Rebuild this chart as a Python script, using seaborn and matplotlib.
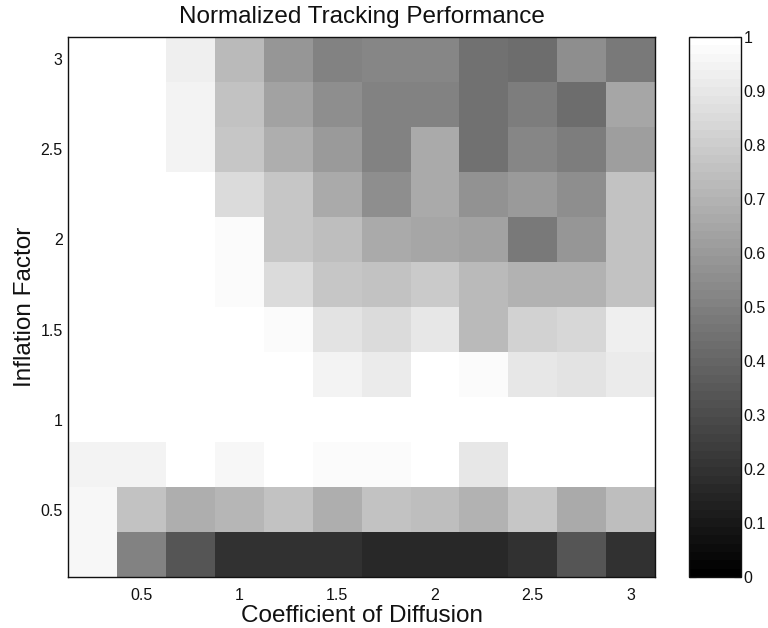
import numpy as np
import pandas as pd
import matplotlib
matplotlib.use("Agg")
import matplotlib.pyplot as plt
import seaborn as sns

# Grid of parameters
diffusion = [0.25, 0.5, 0.75, 1.0, 1.25, 1.5, 1.75, 2.0, 2.25, 2.5, 2.75, 3.0]
inflation = [0.25, 0.5, 0.75, 1.0, 1.25, 1.5, 1.75, 2.0, 2.25, 2.5, 2.75, 3.0]

# Normalized tracking performance, one row per inflation factor (lowest first)
perf_025 = [0.96, 0.50, 0.33, 0.20, 0.20, 0.19, 0.17, 0.17, 0.16, 0.20, 0.33, 0.20]
perf_050 = [0.96, 0.75, 0.68, 0.71, 0.76, 0.68, 0.75, 0.74, 0.69, 0.78, 0.66, 0.74]
perf_075 = [0.94, 0.94, 1.00, 0.96, 1.00, 0.98, 0.98, 1.00, 0.90, 1.00, 1.00, 1.00]
perf_100 = [1.00, 1.00, 1.00, 1.00, 1.00, 1.00, 1.00, 1.00, 1.00, 1.00, 1.00, 1.00]
perf_125 = [1.00, 1.00, 1.00, 1.00, 1.00, 0.95, 0.91, 1.00, 0.98, 0.90, 0.88, 0.92]
perf_150 = [1.00, 1.00, 1.00, 1.00, 0.98, 0.88, 0.85, 0.90, 0.72, 0.82, 0.83, 0.93]
perf_175 = [1.00, 1.00, 1.00, 0.98, 0.85, 0.77, 0.75, 0.79, 0.73, 0.70, 0.70, 0.75]
perf_200 = [1.00, 1.00, 1.00, 0.98, 0.78, 0.74, 0.66, 0.65, 0.64, 0.48, 0.58, 0.75]
perf_225 = [1.00, 1.00, 1.00, 0.85, 0.78, 0.66, 0.55, 0.67, 0.57, 0.60, 0.55, 0.75]
perf_250 = [1.00, 1.00, 0.94, 0.77, 0.68, 0.60, 0.51, 0.66, 0.45, 0.53, 0.49, 0.62]
perf_275 = [1.00, 1.00, 0.94, 0.75, 0.64, 0.56, 0.51, 0.51, 0.45, 0.49, 0.43, 0.65]
perf_300 = [1.00, 1.00, 0.93, 0.72, 0.59, 0.50, 0.52, 0.52, 0.44, 0.43, 0.55, 0.47]

rows = [perf_025, perf_050, perf_075, perf_100, perf_125, perf_150,
        perf_175, perf_200, perf_225, perf_250, perf_275, perf_300]

xticks = [0.5, 1.0, 1.5, 2.0, 2.5, 3.0]
xticklabels = ["0.5", "1", "1.5", "2", "2.5", "3"]
yticks = [0.5, 1.0, 1.5, 2.0, 2.5, 3.0]
yticklabels = ["0.5", "1", "1.5", "2", "2.5", "3"]
cbar_ticks = [0.0, 0.1, 0.2, 0.3, 0.4, 0.5, 0.6, 0.7, 0.8, 0.9, 1.0]
cbar_labels = ["0", "0.1", "0.2", "0.3", "0.4", "0.5", "0.6", "0.7", "0.8", "0.9", "1"]

# Heatmap rows go top to bottom, so put the largest inflation factor first
df = pd.DataFrame(rows, index=inflation, columns=diffusion).iloc[::-1]

sns.set_style("white")
plt.rcParams["font.family"] = ["Liberation Sans", "DejaVu Sans"]

W, H = 768, 628
fig = plt.figure(figsize=(W / 100, H / 100), dpi=100)
ax = fig.add_axes([68.3 / W, 1 - 577.3 / H, (655 - 68.3) / W, (577.3 - 36.7) / H])
cax = fig.add_axes([689.3 / W, 1 - 577.3 / H, (741 - 689.3) / W, (577.3 - 36.7) / H])

cmap = matplotlib.colormaps["gray"].resampled(64)
sns.heatmap(df, cmap=cmap, vmin=0, vmax=1, ax=ax, cbar_ax=cax,
            xticklabels=False, yticklabels=False)

# Map data values to heatmap cell coordinates
xcent = np.arange(len(diffusion)) + 0.5
ycent = np.arange(len(inflation)) + 0.5
ycoords = df.index.values[::-1]
ax.set_xticks(np.interp(xticks, diffusion, xcent))
ax.set_xticklabels(xticklabels)
ax.set_yticks(np.interp(yticks, ycoords, ycent[::-1]))
ax.set_yticklabels(yticklabels, rotation=0)

tick_col = "#222222"
ax.tick_params(direction="in", length=5, width=0.8, color=tick_col,
               top=True, right=True, bottom=True, left=True,
               labelsize=11.5, labelcolor="#111111", pad=4)
ax.tick_params(axis="x", pad=8)
for s in ax.spines.values():
    s.set_visible(True)
    s.set_linewidth(1.0)
    s.set_color("#111111")

ax.set_title("Normalized Tracking Performance", fontsize=17.5, pad=10, color="#111111")
ax.set_xlabel("Coefficient of Diffusion", fontsize=17.5, labelpad=1.5, color="#111111")
ax.set_ylabel("Inflation Factor", fontsize=17.5, labelpad=3, color="#111111")

cb = ax.collections[0].colorbar
cb.outline.set_linewidth(1.0)
cb.outline.set_edgecolor("#111111")
cb.set_ticks(cbar_ticks)
cb.set_ticklabels(cbar_labels)
cax.tick_params(direction="in", length=5, width=0.8, color=tick_col,
                left=True, right=True, labelleft=False, labelright=True,
                labelsize=11.5, labelcolor="#111111", pad=2)

fig.savefig("out.png", dpi=100, facecolor="white")
